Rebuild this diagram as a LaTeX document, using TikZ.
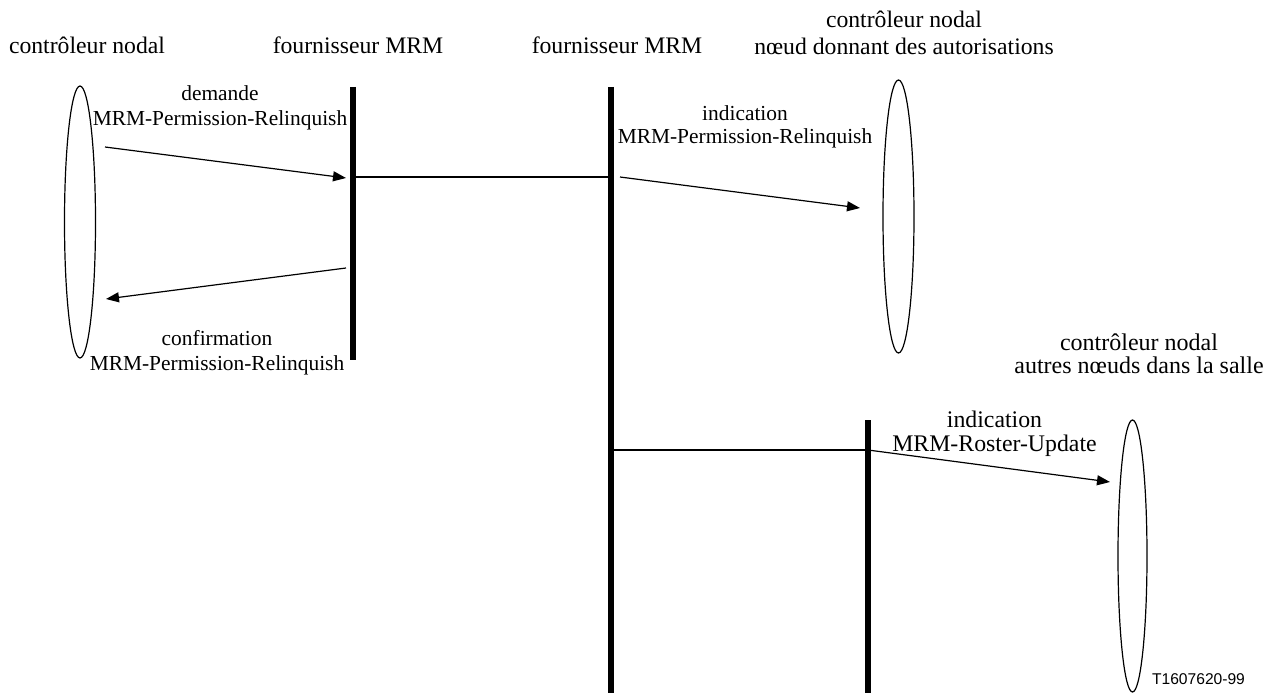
\documentclass[tikz,border=0pt]{standalone}
\usepackage{fontspec}
\setmainfont{Liberation Serif}
\newfontfamily\figsans{Liberation Sans}
\usepackage{tikz}
\usetikzlibrary{shapes.geometric}
\usetikzlibrary{arrows.meta}
\tikzstyle{station} = [draw, ellipse, line width=1.2pt, inner sep=0pt, minimum width=31pt, minimum height=272pt]
\tikzstyle{provider} = [line width=6pt]
\tikzstyle{link} = [line width=2pt]
\tikzstyle{msg} = [line width=1.2pt, -{Triangle[length=13pt,width=10pt]}]
\tikzstyle{heading} = [anchor=north, font=\fontsize{23.7}{27}\selectfont]
\tikzstyle{msglabel} = [anchor=north, font=\fontsize{21.4}{25}\selectfont]

\begin{document}
\begin{tikzpicture}[
            x=1pt, y=-1pt,
            every node/.style={align=center, inner sep=0pt}
        ]
            \useasboundingbox (0,0) rectangle (1275,693);
            \node [heading] (titlectrl) at (87,36.8) {contrôleur nodal};
            \node [heading] (titlemrma) at (358,36.8) {fournisseur MRM};
            \node [heading] (titlemrmb) at (617,36.8) {fournisseur MRM};
            \node [heading] (titleauth) at (904,10.8) {contrôleur nodal\\nœud donnant des autorisations};
            \node [heading, font=\fontsize{24}{23}\selectfont] (titleroom) at (1139,333.6) {contrôleur nodal\\autres nœuds dans la salle};
            \node [station] (ctrl) at (80,222) {};
            \node [station, minimum height=273pt] (auth) at (898.5,216.5) {};
            \node [station, minimum width=29pt] (room) at (1132.5,556) {};
            \coordinate (mrmatop) at (353,87);
            \coordinate (mrmabot) at (353,360);
            \coordinate (mrmbtop) at (611,87);
            \coordinate (mrmbbot) at (611,693);
            \coordinate (mrmctop) at (868,420);
            \coordinate (mrmcbot) at (868,693);
            \coordinate (mrmajoin) at (353,177);
            \coordinate (mrmbjoin) at (611,177);
            \coordinate (mrmbroster) at (611,450);
            \coordinate (mrmcroster) at (868,450);
            \coordinate (reqfrom) at (105,147);
            \coordinate (reqto) at (346,178);
            \coordinate (cnffrom) at (346,268);
            \coordinate (cnfto) at (106,299);
            \coordinate (indfrom) at (620,177);
            \coordinate (indto) at (860,208);
            \coordinate (rosfrom) at (868,450);
            \coordinate (rosto) at (1110,482);
            \draw [provider] (mrmatop) -- (mrmabot);
            \draw [provider] (mrmbtop) -- (mrmbbot);
            \draw [provider] (mrmctop) -- (mrmcbot);
            \draw [link] (mrmajoin) -- (mrmbjoin);
            \draw [link] (mrmbroster) -- (mrmcroster);
            \draw [msg] (reqfrom) -- (reqto);
            \draw [msg] (cnffrom) -- (cnfto);
            \draw [msg] (indfrom) -- (indto);
            \draw [msg] (rosfrom) -- (rosto);
            \node [msglabel] (reqlabel) at (220,85.4) {demande\\MRM-Permission-Relinquish};
            \node [msglabel] (cnflabel) at (217,330.4) {confirmation\\MRM-Permission-Relinquish};
            \node [msglabel, font=\fontsize{21.4}{23.5}\selectfont] (indlabel) at (745,105.4) {indication\\MRM-Permission-Relinquish};
            \node [msglabel, font=\fontsize{23.8}{24.5}\selectfont] (roslabel) at (994.5,410.7) {indication\\MRM-Roster-Update};
            \node [anchor=north, font=\figsans\fontsize{15.6}{18}\selectfont] (figid) at (1198.5,673.8) {T1607620-99};
        \end{tikzpicture}
\end{document}
